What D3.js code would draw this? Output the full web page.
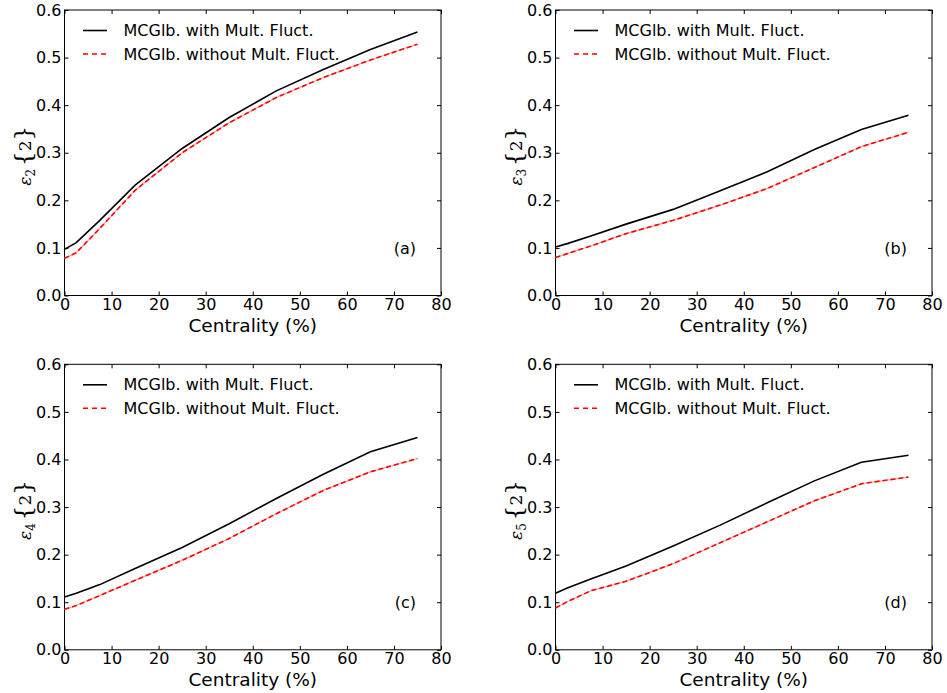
<!DOCTYPE html>
<html>
<head>
<meta charset="utf-8">
<script src="https://cdn.jsdelivr.net/npm/d3@7"></script>
<style>
  body { margin: 0; background: #fff; }
  text { font-family: "DejaVu Sans", sans-serif; fill: #000; }
</style>
</head>
<body>
<div id="chart"></div>
<script>
// centrality bins (%)
const centrality = [0, 2.5, 7.5, 15, 25, 35, 45, 55, 65, 75];

// eps2{2}
const eps2With    = [0.097, 0.111, 0.158, 0.232, 0.309, 0.374, 0.430, 0.475, 0.517, 0.554];
const eps2Without = [0.078, 0.090, 0.141, 0.221, 0.300, 0.363, 0.416, 0.458, 0.495, 0.528];
// eps3{2}
const eps3With    = [0.102, 0.109, 0.125, 0.150, 0.181, 0.220, 0.260, 0.307, 0.349, 0.379];
const eps3Without = [0.080, 0.088, 0.104, 0.130, 0.158, 0.190, 0.225, 0.269, 0.313, 0.343];
// eps4{2}
const eps4With    = [0.111, 0.119, 0.137, 0.171, 0.215, 0.265, 0.318, 0.369, 0.416, 0.446];
const eps4Without = [0.085, 0.093, 0.114, 0.146, 0.188, 0.234, 0.286, 0.335, 0.374, 0.402];
// eps5{2}
const eps5With    = [0.119, 0.130, 0.149, 0.176, 0.218, 0.262, 0.309, 0.355, 0.394, 0.409];
const eps5Without = [0.088, 0.101, 0.124, 0.144, 0.181, 0.225, 0.269, 0.313, 0.349, 0.363];

const panelTags = ["(a)", "(b)", "(c)", "(d)"];
const harmonics = ["2", "3", "4", "5"];
const seriesNames = ["MCGlb. with Mult. Fluct.", "MCGlb. without Mult. Fluct."];
const xTicks = [0, 10, 20, 30, 40, 50, 60, 70, 80];
const yTicks = [0.0, 0.1, 0.2, 0.3, 0.4, 0.5, 0.6];

const panels = [
    { tag: panelTags[0], n: harmonics[0], with: eps2With, without: eps2Without },
    { tag: panelTags[1], n: harmonics[1], with: eps3With, without: eps3Without },
    { tag: panelTags[2], n: harmonics[2], with: eps4With, without: eps4Without },
    { tag: panelTags[3], n: harmonics[3], with: eps5With, without: eps5Without }
];

const W = 947, H = 693;
const lefts = [64.5, 555.5], tops = [10, 364.3];
const pw = 376.5, ph = 285.5;

const svg = d3.select("#chart").append("svg")
    .attr("width", W)
    .attr("height", H);

const x = d3.scaleLinear().domain([0, 80]).range([0, pw]);
const y = d3.scaleLinear().domain([0, 0.6]).range([ph, 0]);

const line = d3.line()
    .x(d => x(d[0]))
    .y(d => y(d[1]));

panels.forEach((p, i) => {
    let g = svg.append("g")
        .attr("transform", "translate(" + lefts[i % 2] + "," + tops[Math.floor(i / 2)] + ")");

    // inward ticks on all four sides
    let tl = 4;
    g.append("g").call(d3.axisBottom(x).tickValues(xTicks).tickSize(-tl).tickPadding(3).tickFormat(d3.format("d")))
        .attr("transform", "translate(0," + ph + ")");
    g.append("g").call(d3.axisTop(x).tickValues(xTicks).tickSize(-tl).tickFormat(""));
    g.append("g").call(d3.axisLeft(y).tickValues(yTicks).tickSize(-tl).tickPadding(3).tickFormat(d3.format(".1f")));
    g.append("g").call(d3.axisRight(y).tickValues(yTicks).tickSize(-tl).tickFormat(""))
        .attr("transform", "translate(" + pw + ",0)");

    g.selectAll(".domain").remove();
    g.selectAll(".tick line").attr("stroke", "#000").attr("stroke-width", 1);
    g.selectAll(".tick text").style("font-size", "16px").attr("fill", "#000");

    g.append("rect")
        .attr("width", pw)
        .attr("height", ph)
        .attr("fill", "none")
        .attr("stroke", "#000")
        .attr("stroke-width", 1);

    let withData = centrality.map((c, k) => [c, p.with[k]]);
    let withoutData = centrality.map((c, k) => [c, p.without[k]]);

    g.append("path").datum(withoutData)
        .attr("d", line)
        .attr("fill", "none")
        .attr("stroke", "#f4a0a0")
        .attr("stroke-width", 1.2);
    g.append("path").datum(withoutData)
        .attr("d", line)
        .attr("fill", "none")
        .attr("stroke", "#ff0000")
        .attr("stroke-width", 1.6)
        .attr("stroke-dasharray", "5,3");
    g.append("path").datum(withData)
        .attr("d", line)
        .attr("fill", "none")
        .attr("stroke", "#000")
        .attr("stroke-width", 1.6);

    // legend
    let leg = g.append("g").attr("transform", "translate(18.5,20.5)");
    seriesNames.forEach((s, k) => {
        leg.append("line")
            .attr("x1", 0).attr("x2", 24)
            .attr("y1", k * 23.5).attr("y2", k * 23.5)
            .attr("stroke", k === 0 ? "#000" : "#ff0000")
            .attr("stroke-width", 1.6)
            .attr("stroke-dasharray", k === 0 ? null : "5,4");
        leg.append("text")
            .attr("x", 40.5)
            .attr("y", k * 23.5)
            .attr("dy", "0.35em")
            .style("font-size", "16px")
            .text(s);
    });

    g.append("text")
        .attr("x", pw - 25)
        .attr("y", y(0.1))
        .attr("dy", "0.35em")
        .attr("text-anchor", "end")
        .style("font-size", "16px")
        .text(p.tag);

    g.append("text")
        .attr("x", pw / 2)
        .attr("y", ph + 36)
        .attr("text-anchor", "middle")
        .style("font-size", "18.5px")
        .text("Centrality (%)");

    // y label: eps_n {2}
    let yl = g.append("text")
        .attr("transform", "translate(-34," + (ph / 2 + 3) + ") rotate(-90)")
        .attr("text-anchor", "middle")
        .style("font-family", "'DejaVu Serif', serif");
    yl.append("tspan").style("font-style", "italic").style("font-size", "17px").text("ε");
    yl.append("tspan").attr("dy", 4).style("font-size", "12px").text(p.n);
    yl.append("tspan").attr("dy", -4).attr("dx", 3).style("font-size", "23px").text("{");
    yl.append("tspan").style("font-size", "17px").text("2");
    yl.append("tspan").style("font-size", "23px").text("}");
});
</script>
</body>
</html>
